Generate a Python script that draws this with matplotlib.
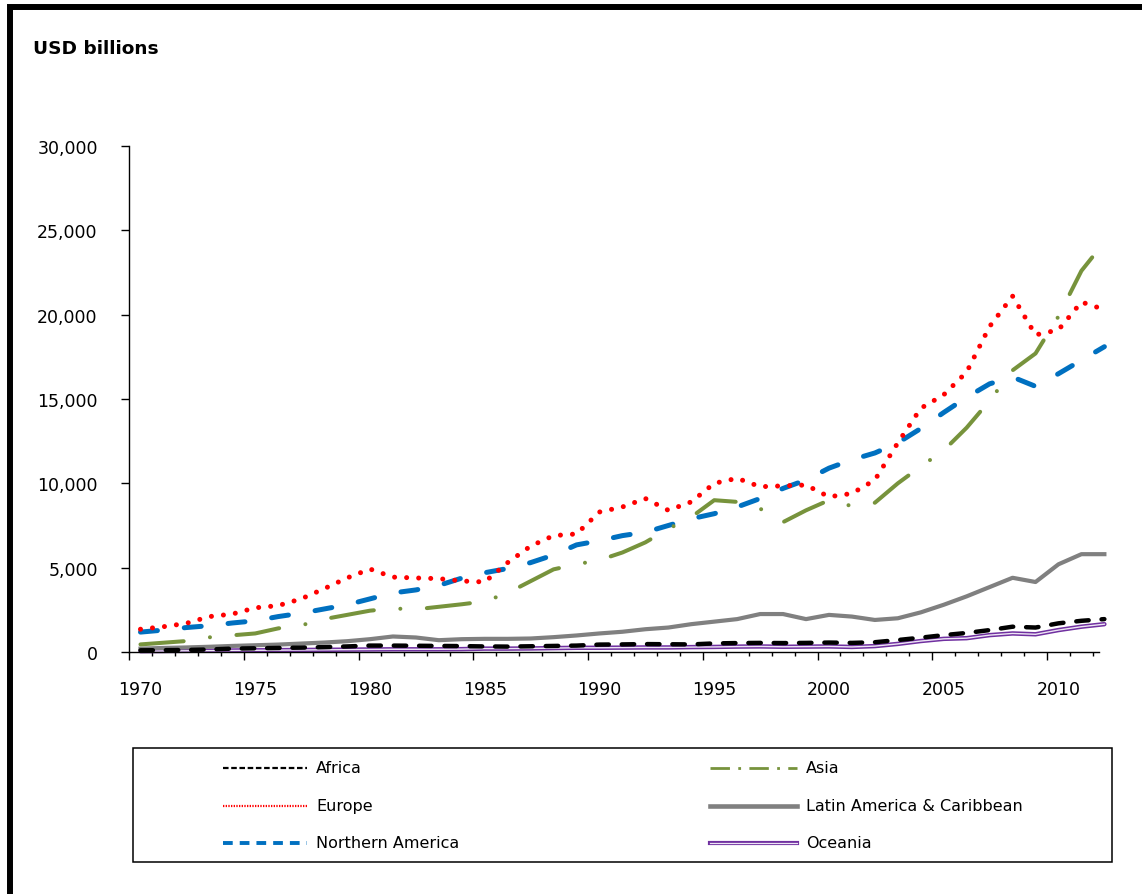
import numpy as np
import matplotlib
matplotlib.use("Agg")
import matplotlib.pyplot as plt
from matplotlib.lines import Line2D
from matplotlib.patches import Rectangle
from matplotlib import transforms
from matplotlib.ticker import StrMethodFormatter

# DATA (USD billions)
years = np.arange(1970, 2013)

africa = [100, 110, 120, 150, 200, 220, 240, 260, 290, 330,
          380, 380, 370, 360, 350, 330, 320, 340, 360, 380,
          440, 450, 470, 460, 450, 510, 530, 540, 530, 540,
          560, 540, 580, 710, 850, 1000, 1130, 1300, 1500, 1450,
          1700, 1850, 1950]

asia = [450, 550, 650, 870, 990, 1100, 1400, 1580, 1950, 2200,
        2450, 2580, 2530, 2680, 2830, 3000, 3500, 4200, 4900, 5200,
        5450, 5900, 6500, 7300, 8000, 9000, 8900, 8500, 7700, 8400,
        9000, 8650, 8850, 10000, 11000, 11950, 13300, 14900, 16700, 17700,
        19900, 22600, 24300]

europe = [1350, 1500, 1700, 2100, 2250, 2620, 2750, 3150, 3750, 4390,
          4920, 4440, 4390, 4350, 4210, 4150, 5300, 6280, 6900, 7000,
          8300, 8600, 9100, 8400, 8900, 10000, 10300, 9800, 9850, 9900,
          9200, 9400, 10200, 12400, 14450, 15250, 16600, 19300, 21100, 18800,
          19100, 20750, 20300]

latin_america = [200, 240, 270, 310, 360, 400, 440, 500, 560, 640,
                 760, 920, 860, 700, 760, 780, 780, 800, 880, 980,
                 1100, 1200, 1350, 1450, 1650, 1800, 1950, 2250, 2250, 1950,
                 2200, 2100, 1900, 2000, 2350, 2800, 3300, 3850, 4400, 4150,
                 5200, 5800, 5800]

northern_america = [1180, 1300, 1450, 1560, 1720, 1850, 2100, 2300, 2550, 2800,
                    3150, 3500, 3680, 3950, 4380, 4700, 4950, 5300, 5750, 6350,
                    6600, 6900, 7100, 7500, 7900, 8200, 8600, 9100, 9700, 10200,
                    10900, 11400, 11800, 12400, 13250, 14200, 15100, 15900, 16300, 15750,
                    16500, 17300, 18100]

oceania = [50, 60, 70, 80, 90, 100, 110, 120, 130, 140,
           150, 160, 160, 160, 170, 200, 200, 210, 230, 250,
           250, 260, 270, 270, 290, 300, 320, 330, 310, 320,
           330, 300, 350, 480, 650, 780, 820, 1000, 1100, 1050,
           1300, 1500, 1650]

W, H = 1142, 895
fig = plt.figure(figsize=(W / 100, H / 100), dpi=100)
plt.rcParams['font.family'] = ['DejaVu Sans']

# axes box in pixels: x 129..1099, y 147..653
ax = fig.add_axes([129 / W, 1 - 653 / H, (1099 - 129) / W, (653 - 147) / H])

xs = years + 0.5   # points sit in the middle of each year slot

# Oceania: double purple line
ax.plot(xs, oceania, color='#7030A0', lw=3.2, solid_capstyle='round', clip_on=False)
ax.plot(xs, oceania, color='#EEE6F5', lw=1.0, clip_on=False)
ax.plot(xs, latin_america, color='#808080', lw=3.0, clip_on=False)
ax.plot(xs, africa, color='black', lw=3.2, linestyle=(0, (2.8, 2.9)),
        dash_capstyle='round', clip_on=False)
ax.plot(xs, northern_america, color='#0070C0', lw=3.6, linestyle=(0, (3.4, 5.4)),
        dash_capstyle='round', clip_on=False)
ax.plot(xs, asia, color='#77933C', lw=2.9, linestyle=(0, (10.75, 6.6, 0.01, 6.6)),
        dash_capstyle='round', clip_on=False)
ax.plot(xs, europe, color='#FF0000', lw=3.6, linestyle=(0, (0.01, 2.4)),
        dash_capstyle='round', clip_on=False)

ax.set_xlim(1970, 1970 + (1099 - 129) / 22.95)
ax.set_ylim(0, 30000)

for s in ['top', 'right']:
    ax.spines[s].set_visible(False)
for s in ['left', 'bottom']:
    ax.spines[s].set_linewidth(1.0)

ax.set_xticks(range(1970, 2011, 5))
ax.set_xticks(range(1970, 2013), minor=True)
ax.tick_params(axis='x', which='major', length=6, width=1, pad=14, labelsize=12.5)
ax.tick_params(axis='x', which='minor', length=3, width=1)
ax.set_yticks(range(0, 30001, 5000))
ax.yaxis.set_major_formatter(StrMethodFormatter('{x:,.0f}'))
ax.tick_params(axis='y', which='major', length=6, width=1, pad=16.5, labelsize=12.5)

# year labels sit under the middle of the year slot
offset = transforms.ScaledTranslation(11.5 / 100, 0, fig.dpi_scale_trans)
for lbl in ax.get_xticklabels():
    lbl.set_transform(lbl.get_transform() + offset)

fig.text(33 / W, 1 - 49 / H, 'USD billions', fontsize=13.3, fontweight='bold',
         ha='left', va='center')

# outer frame (top and left edges visible)
fig.add_artist(Rectangle((10 / W, -0.5), 2, 1 - 7.5 / H + 0.5, transform=fig.transFigure,
                         fill=False, ec='black', lw=4.3))

# legend box
fig.add_artist(Rectangle((133 / W, 1 - 863 / H), (1112 - 133) / W, (863 - 749) / H,
                         transform=fig.transFigure, fill=False, ec='black', lw=1.1))

legend_items = [
    ('Africa', dict(color='black', lw=1.6, linestyle=(0, (2.5, 1.2)))),
    ('Asia', dict(color='#77933C', lw=2.0, linestyle=(0, (7, 3, 1, 3)))),
    ('Europe', dict(color='#FF0000', lw=1.6, linestyle=(0, (0.6, 0.6)))),
    ('Latin America & Caribbean', dict(color='#808080', lw=3.3)),
    ('Northern America', dict(color='#0070C0', lw=2.8, linestyle=(0, (2.5, 1.8)))),
    ('Oceania', dict(color='#7030A0', lw=3.0)),
]
cols = [(223, 307, 316), (710, 797, 806)]
rows = [769, 807, 844]
for i, (name, style) in enumerate(legend_items):
    x0, x1, tx = cols[i % 2]
    yy = 1 - rows[i // 2] / H
    fig.add_artist(Line2D([x0 / W, x1 / W], [yy, yy], transform=fig.transFigure, **style))
    if name == 'Oceania':
        fig.add_artist(Line2D([x0 / W, x1 / W], [yy, yy], transform=fig.transFigure,
                              color='#EEE6F5', lw=0.9))
    fig.text(tx / W, yy, name, fontsize=11.5, ha='left', va='center')

fig.savefig('out.png', dpi=100)
